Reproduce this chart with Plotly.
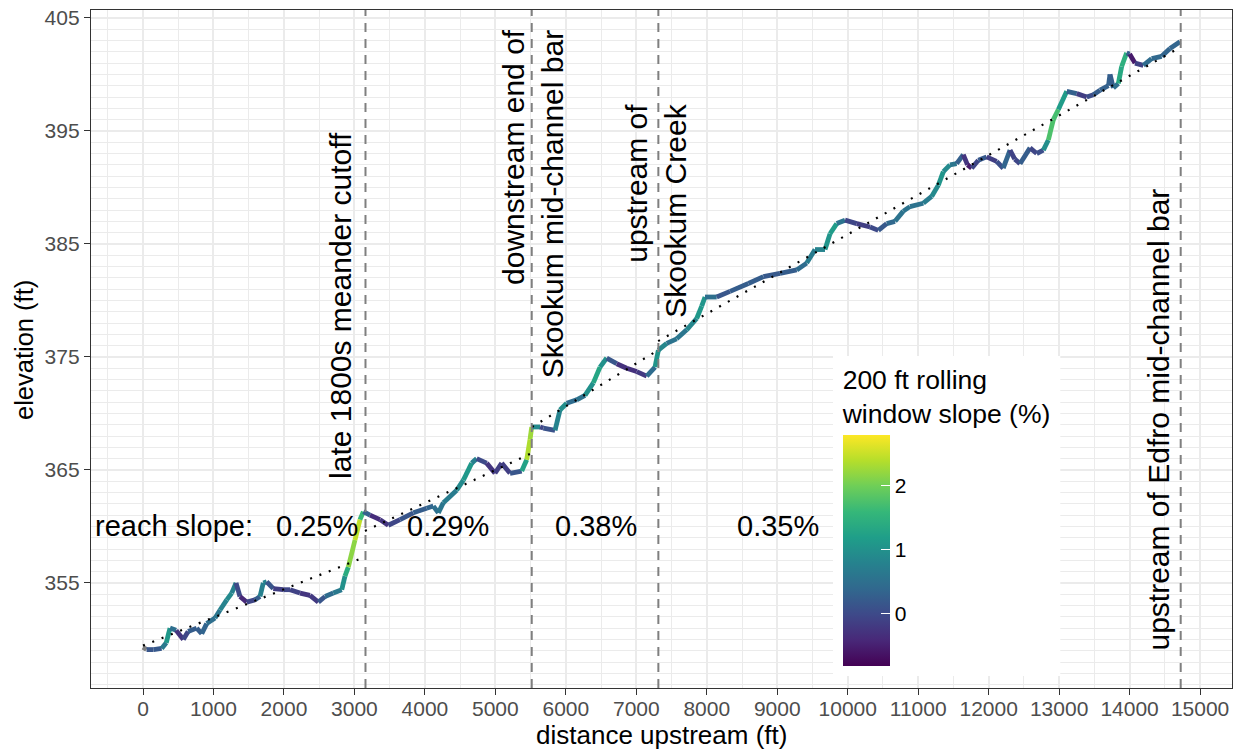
import numpy as np
import plotly.graph_objects as go
from plotly.colors import sample_colorscale

# ---- profile data ----
dist_ft = [0, 50, 150, 265, 330, 383, 470, 572, 640, 762, 833, 904, 1022, 1093, 1188, 1259,
           1320, 1376, 1471, 1589, 1660, 1707, 1755, 1849, 1991, 2086, 2228, 2370, 2488, 2583,
           2700, 2820, 2866, 2913, 3008, 3079, 3127, 3221, 3363, 3481, 3647, 3836, 4025, 4120,
           4191, 4262, 4451, 4546, 4664, 4735, 4877, 4995, 5090, 5208, 5374, 5445, 5492, 5516,
           5634, 5681, 5847, 5917, 6012, 6154, 6272, 6390, 6485, 6580, 6722, 6864, 7006, 7148,
           7266, 7313, 7431, 7573, 7715, 7857, 7928, 7975, 8141, 8330, 8590, 8803, 9039, 9276,
           9418, 9536, 9678, 9749, 9844, 9962, 10128, 10317, 10434, 10553, 10671, 10789, 10883,
           11073, 11191, 11286, 11357, 11451, 11546, 11640, 11700, 11759, 11853, 11971, 12113,
           12207, 12303, 12370, 12445, 12587, 12682, 12776, 12847, 12918, 12989, 13108, 13250,
           13392, 13486, 13580, 13700, 13722, 13769, 13840, 13887, 13958, 14000, 14077, 14195,
           14313, 14455, 14573, 14715]
elev_ft = [349.3, 349.1, 349.1, 349.2, 349.7, 351.0, 350.8, 350.0, 350.7, 351.0, 350.5, 351.4,
           351.9, 352.6, 353.5, 354.1, 355.0, 353.8, 353.3, 353.5, 353.8, 355.0, 355.1, 354.5,
           354.4, 354.4, 354.1, 353.9, 353.3, 353.8, 354.1, 354.4, 355.6, 356.4, 358.8, 360.6,
           361.3, 361.0, 360.6, 360.1, 360.6, 361.2, 361.6, 361.8, 361.2, 362.1, 363.2, 364.1,
           365.6, 366.0, 365.6, 364.7, 365.6, 364.7, 364.9, 365.9, 367.7, 368.8, 368.8, 368.7,
           368.5, 370.3, 370.9, 371.2, 371.6, 372.7, 374.1, 374.9, 374.4, 374.0, 373.7, 373.3,
           374.1, 375.6, 376.2, 376.6, 377.4, 378.4, 379.5, 380.3, 380.3, 380.8, 381.5, 382.1,
           382.4, 382.7, 383.3, 384.5, 384.5, 385.9, 386.8, 387.1, 386.8, 386.5, 386.2, 386.8,
           387.0, 387.9, 388.3, 388.6, 389.2, 390.2, 391.4, 392.0, 392.1, 392.9, 392.0, 391.7,
           392.4, 392.7, 392.3, 391.7, 393.3, 392.5, 392.1, 393.5, 393.0, 393.3, 394.2, 396.0,
           396.9, 398.5, 398.3, 398.0, 398.2, 398.6, 399.0, 400.0, 398.8, 399.2, 400.7, 401.9,
           401.8, 401.0, 400.8, 401.4, 401.6, 402.3, 402.9]
slope_pct = [None, 0.2, 0.1, 0.3, 1.0, 1.2, -0.2, -0.3, 0.2, 0.3, 0.2, 0.5, 0.5, 0.7, 0.9, 0.9,
             0.6, -0.6, -0.2, 0.1, 0.4, 1.1, 0.5, -0.2, -0.1, 0.0, -0.2, -0.3, -0.1, 0.4, 0.5,
             0.8, 1.2, 1.6, 2.7, 2.2, 1.0, -0.4, -0.3, -0.2, 0.1, 0.2, 0.3, 0.4, 0.6, 0.6, 0.8,
             1.0, 1.2, 0.3, -0.3, -0.2, -0.1, -0.2, 0.5, 2.0, 2.7, 1.8, 0.0, -0.1, 0.3, 1.3, 0.6,
             0.3, 0.8, 1.2, 1.4, 0.6, -0.3, -0.3, -0.3, -0.1, 1.0, 1.1, 0.6, 0.5, 0.7, 1.0, 1.2,
             0.9, 0.1, 0.2, 0.3, 0.2, 0.2, 0.3, 0.6, 0.8, 0.8, 1.3, 1.0, 0.1, -0.2, -0.1, 0.1,
             0.3, 0.5, 0.6, 0.5, 0.6, 0.8, 1.0, 1.1, 0.7, 0.5, 0.1, -0.6, -0.5, 0.4, 0.0, -0.3,
             0.4, 0.3, -0.5, 0.4, 0.1, -0.2, 0.3, 1.6, 1.9, 1.5, 0.8, -0.2, -0.1, 0.2, 0.3, 0.3,
             0.3, 0.2, 0.8, 1.9, 1.0, -0.5, -0.6, 0.4, 0.5, 0.3, 0.4, 0.3]

# ---- reach fits ----
reach_start_ft = [0, 3150, 5520, 7310]
reach_end_ft = [3150, 5520, 7310, 14720]
reach_start_elev = [349.45, 359.6, 368.8, 376.4]
reach_end_elev = [357.3, 366.5, 375.6, 402.4]
reach_slope_labels = ["0.25%", "0.29%", "0.38%", "0.35%"]
reach_label_ft = [2476, 4325, 6428, 9004]
reach_label_elev = 360.0

# ---- landmarks ----
landmark_ft = [3157, 5516, 7313, 14725]
landmark_text = ["late 1800s meander cutoff",
                 "downstream end of<br>Skookum mid-channel bar",
                 "upstream of<br>Skookum Creek",
                 "upstream of Edfro mid-channel bar"]
landmark_label_ft = [2803, 5534, 7278, 14411]
landmark_label_top = [395.09, 404.12, 397.57, 390.04]

CMIN, CMAX = -0.81, 2.78
FONT = "Liberation Sans, Arial, sans-serif"

fig = go.Figure()

# profile segments coloured by slope
for i in range(len(dist_ft) - 1):
    a, b = slope_pct[i], slope_pct[i + 1]
    if a is None or b is None:
        col = "#7F7F7F"
    else:
        v = ((a + b) / 2 - CMIN) / (CMAX - CMIN)
        col = sample_colorscale("Viridis", [min(max(v, 0), 1)])[0]
    fig.add_trace(go.Scatter(x=dist_ft[i:i + 2], y=elev_ft[i:i + 2], mode="lines",
                             line=dict(color=col, width=4.8), hoverinfo="skip",
                             showlegend=False))

# reach trend lines
for s, e, ys, ye in zip(reach_start_ft, reach_end_ft, reach_start_elev, reach_end_elev):
    fig.add_trace(go.Scatter(x=[s, e], y=[ys, ye], mode="lines",
                             line=dict(color="black", width=2.2, dash="2px,8px"),
                             hoverinfo="skip", showlegend=False))

# colour bar carrier
slope_arr = np.array([np.nan if s is None else s for s in slope_pct], dtype=float)
fig.add_trace(go.Scatter(
    x=dist_ft, y=elev_ft, mode="markers", hoverinfo="skip", showlegend=False,
    marker=dict(size=0, opacity=0, color=slope_arr, colorscale="Viridis",
                cmin=CMIN, cmax=CMAX, showscale=True,
                colorbar=dict(
                    title=dict(text="200 ft rolling<br>window slope (%)", side="top",
                               font=dict(size=26.5, color="black", family=FONT)),
                    x=0.6500, xanchor="left", y=0.0177, yanchor="bottom",
                    len=320, lenmode="pixels", thickness=47, thicknessmode="pixels",
                    xpad=10, ypad=10, bgcolor="white", outlinewidth=0, borderwidth=0,
                    tickvals=[0, 1, 2], ticks="inside", ticklen=9, tickcolor="white",
                    tickwidth=1.2, tickfont=dict(size=21, color="black", family=FONT)))))

# vertical landmark lines
for xv in landmark_ft:
    fig.add_shape(type="line", x0=xv, x1=xv, y0=0, y1=1, xref="x", yref="paper",
                  line=dict(color="#7F7F7F", width=2, dash="9px,7px"), layer="above")

# landmark labels
for txt, xl, yt in zip(landmark_text, landmark_label_ft, landmark_label_top):
    fig.add_annotation(x=xl, y=yt, xref="x", yref="y", text=txt, textangle=-90,
                       showarrow=False, xanchor="center", yanchor="top", align="right",
                       font=dict(size=30, color="black", family=FONT))

# reach slope labels
fig.add_annotation(x=433, y=reach_label_elev, text="reach slope:", showarrow=False,
                   xanchor="center", yanchor="middle",
                   font=dict(size=29, color="black", family=FONT))
for lab, xl in zip(reach_slope_labels, reach_label_ft):
    fig.add_annotation(x=xl, y=reach_label_elev, text=lab, showarrow=False,
                       xanchor="center", yanchor="middle",
                       font=dict(size=29, color="black", family=FONT))

# axis titles
fig.add_annotation(x=0.5, y=-0.0690, xref="paper", yref="paper",
                   text="distance upstream (ft)", showarrow=False,
                   xanchor="center", yanchor="middle",
                   font=dict(size=26, color="black", family=FONT))
fig.add_annotation(x=-0.0587, y=0.4985, xref="paper", yref="paper",
                   text="elevation (ft)", showarrow=False, textangle=-90,
                   xanchor="center", yanchor="middle",
                   font=dict(size=25.5, color="black", family=FONT))

fig.update_layout(
    width=1241, height=752, margin=dict(l=91, r=9, t=10, b=64),
    paper_bgcolor="white", plot_bgcolor="white", showlegend=False,
    font=dict(family=FONT, color="black"),
    xaxis=dict(range=[-738, 15453], tickmode="linear", tick0=0, dtick=1000,
               tickformat="d", automargin=False, ticklabeloverflow="allow",
               ticklabelstandoff=-4,
               ticks="outside", ticklen=6, tickwidth=1.2, tickcolor="#333333",
               tickfont=dict(size=21, color="#4D4D4D"),
               showgrid=True, gridcolor="#EBEBEB", gridwidth=1.6,
               minor=dict(dtick=500, tick0=0, showgrid=True, gridcolor="#EBEBEB",
                          gridwidth=1.2, ticks=""),
               showline=True, mirror=True, linecolor="#333333", linewidth=1.3,
               zeroline=False),
    yaxis=dict(range=[345.7, 405.7], tickmode="linear", tick0=355, dtick=10,
               automargin=False, ticklabeloverflow="allow",
               ticks="outside", ticklen=6, tickwidth=1.2, tickcolor="#333333",
               tickfont=dict(size=21, color="#4D4D4D"),
               showgrid=True, gridcolor="#EBEBEB", gridwidth=1.6,
               minor=dict(dtick=1, tick0=355, showgrid=True, gridcolor="#EBEBEB",
                          gridwidth=1.0, ticks=""),
               showline=True, mirror=True, linecolor="#333333", linewidth=1.3,
               zeroline=False),
)

fig.write_html("out.html",
               config={"displayModeBar": False},
               post_script="document.body.style.margin='0px';"
                           "document.body.style.overflow='hidden';")
